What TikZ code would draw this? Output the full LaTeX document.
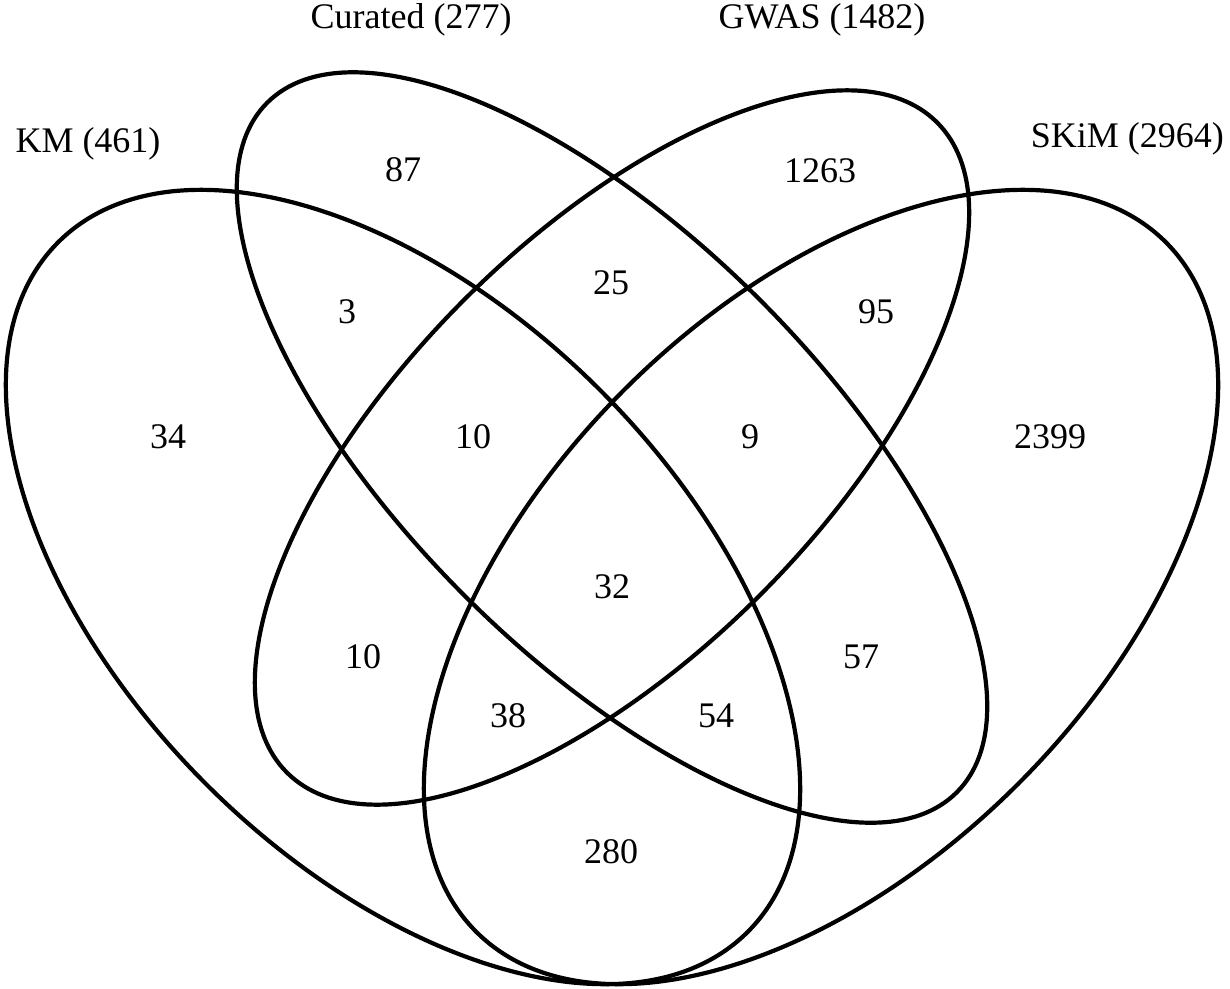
\documentclass[tikz,border=0pt]{standalone}
\usepackage{fontspec}
\setmainfont{Liberation Serif}
\begin{document}
\begin{tikzpicture}[x=1pt,y=-1pt,
  vennline/.style={draw=black, line width=4.2pt},
  setlabel/.style={inner sep=0pt, anchor=base, font=\fontsize{36}{40}\selectfont},
  count/.style={inner sep=0pt, anchor=center, font=\fontsize{36}{40}\selectfont}]
\useasboundingbox (0,0) rectangle (1230,988);
% ellipse centres
\coordinate (kmc) at (403,587);
\coordinate (skc) at (821,587);
\coordinate (inc) at (612,447.5);
% sets
\draw[vennline, rotate around={-45:(kmc)}] (kmc) ellipse [x radius=487.6pt, y radius=278.6pt];
\draw[vennline, rotate around={45:(skc)}] (skc) ellipse [x radius=487.6pt, y radius=278.6pt];
\draw[vennline, rotate around={-45:(inc)}] (inc) ellipse [x radius=487.6pt, y radius=209pt];
\draw[vennline, rotate around={45:(inc)}] (inc) ellipse [x radius=459.7pt, y radius=209pt];
% set labels
\node[setlabel] (lcur) at (411,28) {Curated (277)};
\node[setlabel] (lgwas) at (822,28) {GWAS (1482)};
\node[setlabel] (lkm) at (88,152) {KM (461)};
\node[setlabel, anchor=base east] (lskim) at (1224,147) {SKiM (2964)};
% counts
\node[count] (n87) at (403,170) {87};
\node[count] (n1263) at (820,171) {1263};
\node[count] (n3) at (347,312) {3};
\node[count] (n25) at (611,283) {25};
\node[count] (n95) at (876,312) {95};
\node[count] (n34) at (168,437) {34};
\node[count] (n10a) at (473,437) {10};
\node[count] (n9) at (750,437) {9};
\node[count] (n2399) at (1050,437) {2399};
\node[count] (n32) at (612,587) {32};
\node[count] (n10b) at (363,657) {10};
\node[count] (n57) at (861,657) {57};
\node[count] (n38) at (508,716) {38};
\node[count] (n54) at (716,716) {54};
\node[count] (n280) at (611,852) {280};
\end{tikzpicture}
\end{document}
